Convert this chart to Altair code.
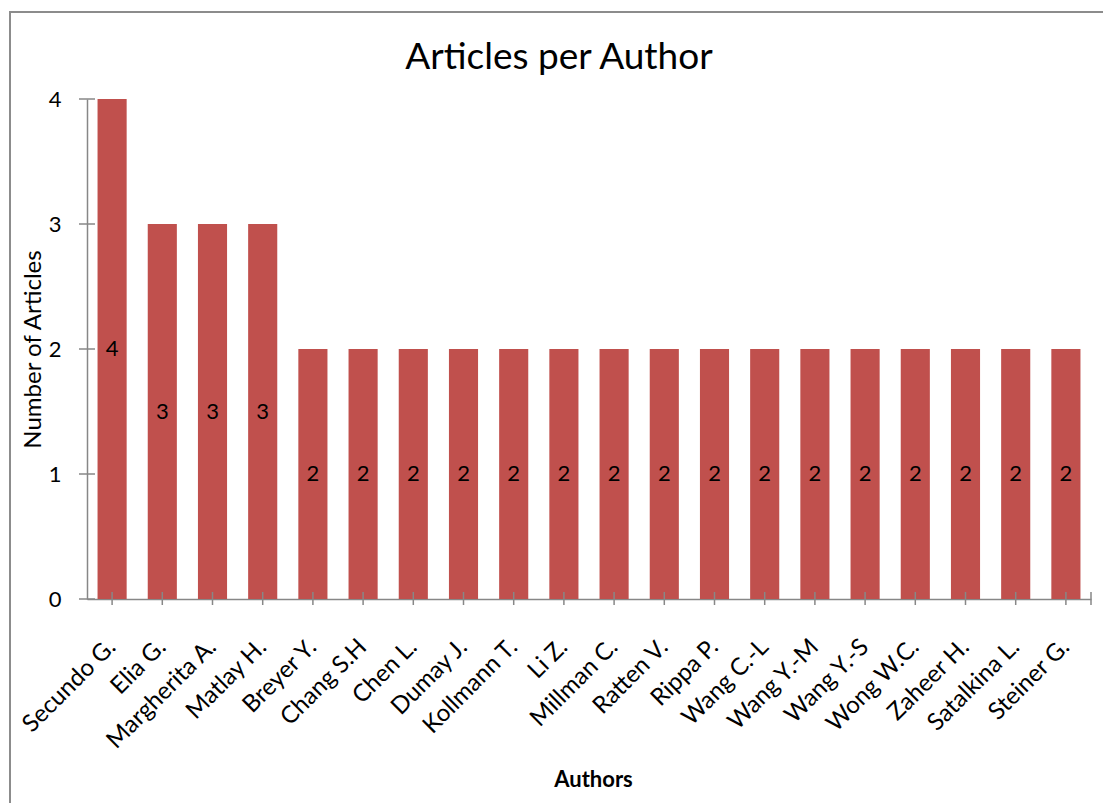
import altair as alt
import pandas as pd

authors = ["Secundo G.", "Elia G.", "Margherita A.", "Matlay H.", "Breyer Y.",
           "Chang S.H", "Chen L.", "Dumay J.", "Kollmann T.", "Li Z.",
           "Millman C.", "Ratten V.", "Rippa P.", "Wang C.-L", "Wang Y.-M",
           "Wang Y.-S", "Wong W.C.", "Zaheer H.", "Satalkina L.", "Steiner G."]
counts = [4, 3, 3, 3, 2, 2, 2, 2, 2, 2, 2, 2, 2, 2, 2, 2, 2, 2, 2, 2]
y_ticks = [0, 1, 2, 3, 4]

df = pd.DataFrame({"Author": authors, "Count": counts})
ydf = pd.DataFrame({"v": y_ticks})

W, H = 1004, 500
FONT = "Lato"
AXIS_GRAY = "#878787"

xscale = alt.Scale(paddingInner=0.42, paddingOuter=0.21)
yscale = alt.Scale(domain=[0, 4])

base = alt.Chart(df)

bars = base.mark_bar(color="#C0504D").encode(
    x=alt.X("Author:N", sort=None, scale=xscale,
            axis=alt.Axis(title="Authors", labelAngle=-45, labelAlign="right",
                          labelBaseline="middle", labelPadding=44, ticks=False,
                          labelFontSize=24, labelFont=FONT, labelColor="black",
                          domainColor=AXIS_GRAY, domainWidth=1.5,
                          titleFont=FONT, titleFontSize=22, titleFontWeight="bold",
                          titleColor="black", titleX=506, titleY=187,
                          titleBaseline="alphabetic", titleAlign="center")),
    y=alt.Y("Count:Q", scale=yscale,
            axis=alt.Axis(title="Number of Articles", values=y_ticks, format="d",
                          grid=False, ticks=False, labelPadding=26,
                          labelFontSize=22, labelFont=FONT, labelColor="black",
                          domainColor=AXIS_GRAY, domainWidth=1.5,
                          titleFont=FONT, titleFontSize=24, titleFontWeight="normal",
                          titleColor="black", titleX=-54, titleY=250,
                          titleAngle=-90, titleAlign="center",
                          titleBaseline="middle")),
)

labels = base.transform_calculate(mid="datum.Count / 2").mark_text(
    fontSize=22, font=FONT, color="black", baseline="middle"
).encode(
    x=alt.X("Author:N", sort=None, scale=xscale),
    y=alt.Y("mid:Q", scale=yscale),
    text=alt.Text("Count:Q"),
)

xticks = base.mark_rule(color=AXIS_GRAY, strokeWidth=1.5).encode(
    x=alt.X("Author:N", sort=None, scale=xscale),
    y=alt.value(H - 7), y2=alt.value(H + 6),
)

end_tick = alt.Chart(pd.DataFrame({"k": [0]})).mark_rule(
    color=AXIS_GRAY, strokeWidth=1.5
).encode(x=alt.value(W), y=alt.value(H - 7), y2=alt.value(H + 6))

yticks = alt.Chart(ydf).mark_rule(color=AXIS_GRAY, strokeWidth=1.5).encode(
    y=alt.Y("v:Q", scale=yscale),
    x=alt.value(-8), x2=alt.value(8),
)

title = alt.Chart(pd.DataFrame({"t": ["Articles per Author"]})).mark_text(
    fontSize=37, font=FONT, color="black", align="center", baseline="alphabetic"
).encode(text="t:N", x=alt.value(559 - 87), y=alt.value(69 - 99))

frame = alt.Chart(pd.DataFrame({"k": [0]})).mark_rect(
    fill=None, stroke="#8c8c8c", strokeWidth=2
).encode(x=alt.value(10 - 87), y=alt.value(12 - 99),
         x2=alt.value(1103 - 87 + 10), y2=alt.value(803 - 99 + 10))

chart = alt.layer(frame, bars, labels, xticks, end_tick, yticks, title).properties(
    width=W, height=H,
    background="white",
    autosize=alt.AutoSizeParams(type="none"),
    padding={"left": 87, "top": 99, "right": 12, "bottom": 204},
).configure_view(stroke=None, strokeWidth=0)

chart.save("out.html", embed_options={"renderer": "svg", "actions": False})
